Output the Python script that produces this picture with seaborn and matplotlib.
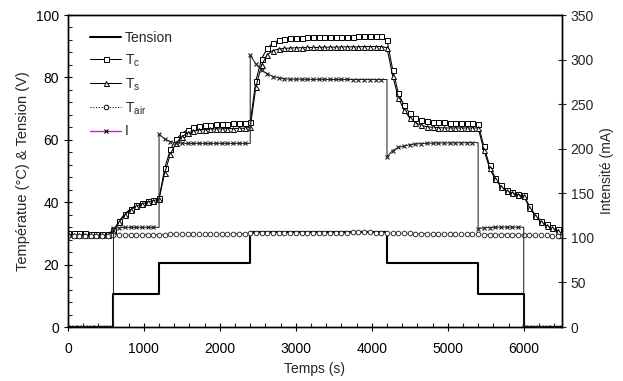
import numpy as np
import pandas as pd
import seaborn as sns
import matplotlib.pyplot as plt
from matplotlib.lines import Line2D
from matplotlib.ticker import MultipleLocator

# time grid of the logger (s)
temps = np.arange(0, 6451, 75)

T_c = [30.2, 30.1, 30.0, 30.0, 29.9, 29.9, 29.9, 29.9,
       31.0, 34.0, 36.3, 37.9, 39.0, 39.8, 40.4, 40.8,
       41.2, 51.0, 57.0, 60.2, 62.0, 63.3, 64.0, 64.4, 64.7, 64.9, 65.0, 65.1, 65.2, 65.3, 65.3, 65.4,
       65.6, 79.0, 86.0, 89.4, 91.0, 91.9, 92.3, 92.5, 92.6, 92.7, 92.8, 92.8, 92.9, 92.9, 93.0, 93.0,
       93.1, 93.1, 93.1, 93.2, 93.2, 93.2, 93.3, 93.3,
       92.0, 82.5, 75.0, 71.0, 68.5, 67.0, 66.2, 65.9, 65.7, 65.6, 65.6, 65.5, 65.5, 65.5, 65.5, 65.5,
       65.0, 58.0, 51.8, 47.8, 45.4, 43.9, 43.2, 42.7,
       42.3, 38.8, 36.0, 34.1, 32.9, 32.1, 31.4]

T_s = [29.7, 29.6, 29.5, 29.5, 29.4, 29.4, 29.4, 29.4,
       30.8, 33.7, 36.0, 37.6, 38.7, 39.5, 40.1, 40.5,
       41.0, 49.5, 55.5, 59.0, 61.0, 62.2, 62.8, 63.1, 63.3, 63.4, 63.5, 63.5, 63.6, 63.6, 63.7, 63.7,
       64.0, 77.0, 84.0, 87.3, 88.6, 89.1, 89.3, 89.4, 89.5, 89.5, 89.6, 89.6, 89.6, 89.7, 89.7, 89.7,
       89.8, 89.8, 89.8, 89.8, 89.9, 89.9, 89.9, 89.9,
       89.5, 80.5, 73.5, 69.5, 67.0, 65.5, 64.6, 64.2, 64.0, 63.9, 63.8, 63.8, 63.8, 63.8, 63.8, 63.8,
       63.8, 56.8, 51.0, 47.3, 45.0, 43.6, 42.9, 42.4,
       42.0, 38.3, 35.6, 33.7, 32.5, 31.6, 30.9]

T_air = [29.3, 29.3, 29.2, 29.2, 29.2, 29.2, 29.2, 29.2,
         29.4, 29.4, 29.5, 29.5, 29.5, 29.5, 29.6, 29.6,
         29.6, 29.6, 29.7, 29.7, 29.7, 29.7, 29.8, 29.8, 29.8, 29.8, 29.8, 29.9, 29.9, 29.9, 29.9, 29.9,
         30.0, 30.0, 30.0, 30.0, 30.1, 30.1, 30.1, 30.1, 30.1, 30.1, 30.2, 30.2, 30.2, 30.2, 30.2, 30.2,
         30.2, 30.2, 30.3, 30.3, 30.3, 30.3, 30.2, 30.2,
         30.1, 30.1, 30.0, 30.0, 30.0, 29.9, 29.9, 29.9, 29.9, 29.8, 29.8, 29.8, 29.8, 29.7, 29.7, 29.7,
         29.7, 29.6, 29.6, 29.6, 29.6, 29.6, 29.5, 29.5,
         29.5, 29.5, 29.4, 29.4, 29.4, 29.3, 29.3]

I_mA = [0, 0, 0, 0, 0, 0, 0, 0,
        111.0, 111.5, 111.8, 111.8, 111.8, 111.8, 111.8, 111.8,
        216, 211, 208, 206.5, 206.2, 206, 206, 206, 206, 206, 206, 206, 206, 206, 206, 206,
        305, 295, 288, 284, 281, 279.5, 278.5, 278, 278, 278, 277.8, 277.8, 277.8, 277.8, 277.7, 277.7,
        277.7, 277.7, 277.6, 277.6, 277.6, 277.6, 277.6, 277.6,
        191, 198, 201.5, 203, 204.5, 205.3, 205.8, 206.1, 206.3, 206.4, 206.5, 206.6, 206.6, 206.7, 206.7, 206.8,
        110.5, 111.2, 111.6, 111.8, 112, 112, 112, 112,
        0, 0, 0, 0, 0, 0, 0]

# switching instants (s)
sauts = [600, 1200, 2400, 4200, 5400, 6000]

tension_t = [0, 600, 600, 1200, 1200, 2400, 2400, 4200, 4200, 5400, 5400, 6000, 6000, 6500]
tension_v = [0, 0, 10.6, 10.6, 20.5, 20.5, 30.3, 30.3, 20.5, 20.5, 10.5, 10.5, 0, 0]

df = pd.DataFrame({'t': temps, 'Tc': T_c, 'Ts': T_s, 'Tair': T_air, 'I': I_mA})

# current: add the value just before each jump so the jump is vertical
rows = []
marks = []
for k, (tt, ii) in enumerate(zip(temps, I_mA)):
    if tt in sauts:
        rows.append((tt, I_mA[k - 1]))
    marks.append(len(rows))
    rows.append((tt, ii))
df_I = pd.DataFrame(rows, columns=['t', 'I'])

sns.set_style('ticks')
plt.rcParams['font.family'] = ['Liberation Sans', 'DejaVu Sans']
plt.rcParams['mathtext.fontset'] = 'custom'
plt.rcParams['mathtext.rm'] = 'Liberation Sans'

fig = plt.figure(figsize=(6.23, 3.81), dpi=100)
ax = fig.add_axes([0.109, 0.1417, 0.7926, 0.8189])
ax2 = ax.twinx()

lw = 0.75
ms = 3.6
sns.lineplot(x=tension_t, y=tension_v, ax=ax, color='black', linewidth=1.5,
             sort=False, estimator=None)
sns.lineplot(data=df, x='t', y='Tc', ax=ax, color='black', linewidth=lw, marker='s',
             markersize=ms, markerfacecolor='white', markeredgecolor='black', markeredgewidth=0.7,
             sort=False, estimator=None)
sns.lineplot(data=df, x='t', y='Ts', ax=ax, color='black', linewidth=lw, marker='^',
             markersize=ms, markerfacecolor='white', markeredgecolor='black', markeredgewidth=0.7,
             sort=False, estimator=None)
sns.lineplot(data=df, x='t', y='Tair', ax=ax, color='black', linewidth=lw, linestyle=':',
             marker='o', markersize=3.3, markerfacecolor='white', markeredgecolor='#333333',
             markeredgewidth=0.7, sort=False, estimator=None)
sns.lineplot(data=df_I, x='t', y='I', ax=ax2, color='#222222', linewidth=lw, marker='x',
             markersize=3.5, markeredgecolor='#222222', markeredgewidth=0.8, markevery=marks,
             sort=False, estimator=None)

ax.set_xlim(0, 6500)
ax.set_ylim(0, 100)
ax2.set_ylim(0, 350)
ax.xaxis.set_major_locator(MultipleLocator(1000))
ax.xaxis.set_minor_locator(MultipleLocator(200))
ax.yaxis.set_major_locator(MultipleLocator(20))
ax.yaxis.set_minor_locator(MultipleLocator(4))
ax2.yaxis.set_major_locator(MultipleLocator(50))

ax.tick_params(which='major', direction='inout', length=6, width=0.8, labelsize=10, colors='black')
ax.tick_params(which='minor', direction='in', length=3, width=0.8)
ax.tick_params(axis='x', which='major', pad=8)
ax2.tick_params(which='major', direction='inout', length=6, width=0.8, labelsize=10)

for a in (ax, ax2):
    for s in a.spines.values():
        s.set_visible(True)
        s.set_linewidth(1.0)
        s.set_color('black')

ax.set_xlabel('Temps (s)', fontsize=10)
ax.set_ylabel('Températue (°C) & Tension (V)', fontsize=10.5)
ax2.set_ylabel('Intensité (mA)', fontsize=10)

handles = [
    Line2D([], [], color='black', linewidth=1.5),
    Line2D([], [], color='black', linewidth=lw, marker='s', markersize=ms,
           markerfacecolor='white', markeredgecolor='black', markeredgewidth=0.7),
    Line2D([], [], color='black', linewidth=lw, marker='^', markersize=ms,
           markerfacecolor='white', markeredgecolor='black', markeredgewidth=0.7),
    Line2D([], [], color='black', linewidth=lw, linestyle=':', marker='o', markersize=3.3,
           markerfacecolor='white', markeredgecolor='black', markeredgewidth=0.7),
    Line2D([], [], color='#B030B0', linewidth=1.0, marker='x', markersize=3.5,
           markeredgecolor='black', markeredgewidth=0.8),
]
labels = ['Tension', r'T$_\mathregular{c}$', r'T$_\mathregular{s}$', r'T$_\mathregular{air}$', 'I']
ax.legend(handles, labels, loc='upper left', bbox_to_anchor=(0.02, 0.99), frameon=False,
          fontsize=10, handlelength=2.2, labelspacing=0.55, handletextpad=0.3)

fig.savefig('out.png', dpi=100)
